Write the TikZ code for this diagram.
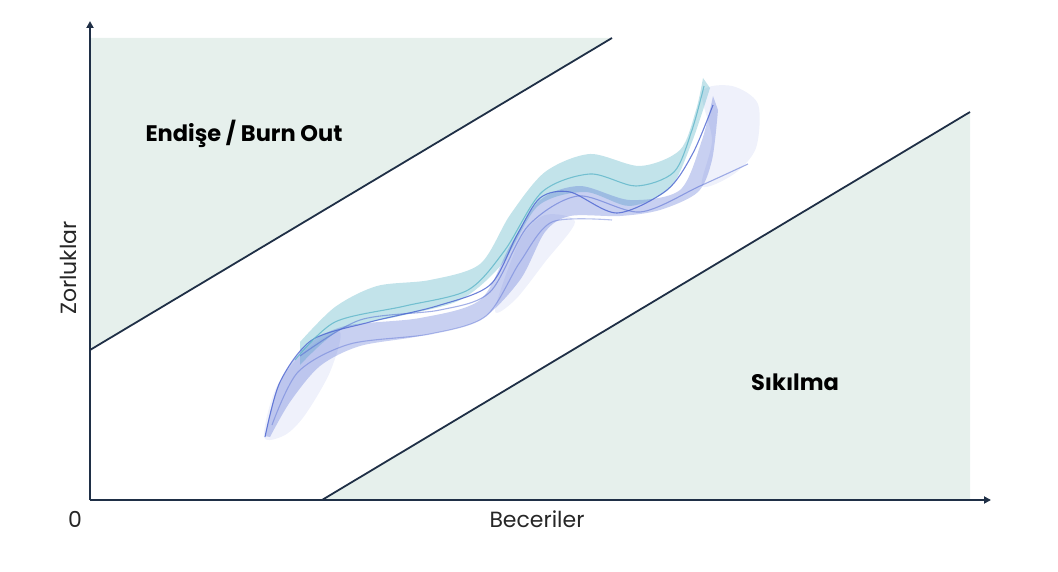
\documentclass[tikz,border=0pt]{standalone}
\usepackage{fontspec}
\setmainfont{Poppins}
\usepackage{tikz}
\usetikzlibrary{arrows.meta}
\definecolor{zonefill}{HTML}{E6F0EC}
\definecolor{navy}{HTML}{1F2F46}
\definecolor{teal}{HTML}{5FB6C9}
\definecolor{wave}{HTML}{4A63D0}
\tikzset{
	axis/.style={navy,line width=2pt,-{Triangle[length=7pt,width=7pt]}},
	border/.style={navy,line width=1.8pt},
	zone/.style={font=\bfseries\fontsize{22.5}{26}\selectfont},
	axislabel/.style={font=\fontsize{22}{26}\selectfont,text=black!85},
	band/.style={fill=#1,fill opacity=0.38,draw=none},
	haze/.style={fill=wave,fill opacity=0.09,draw=none},
	strand/.style={draw=#1,line width=1.1pt,opacity=0.8}
}
\begin{document}
\begin{tikzpicture}[x=1pt,y=-1pt]
	\useasboundingbox (0,0) rectangle (1058,572);
	\coordinate (O) at (90,500);
	\coordinate (Ytop) at (90,21);
	\coordinate (Xend) at (991,500);
	\coordinate (A) at (90,350);
	\coordinate (B) at (612,38);
	\coordinate (C) at (322,500);
	\coordinate (D) at (970,112);
	\fill[zonefill] (90,38) -- (B) -- (A) -- cycle;
	\fill[zonefill] (C) -- (D) -- (970,500) -- cycle;
	\draw[border] (A) -- (B);
	\draw[border] (C) -- (D);
	\draw[axis] (O) -- (Ytop);
	\draw[axis] (O) -- (Xend);
	\node[zone] (worry) at (244,134) {Endişe / Burn Out};
	\node[zone] (bored) at (795,382) {Sıkılma};
	\node[axislabel] (zero) at (75,519) {0};
	\node[axislabel] (skills) at (537,519) {Beceriler};
	\node[axislabel,rotate=90] (challenges) at (68,268) {Zorluklar};
	\fill[haze] plot[smooth cycle] coordinates {(264,437) (276,388) (306,350) (340,332) (330,372) (305,415) (285,435)};
	\fill[haze] plot[smooth cycle] coordinates {(702,92) (732,86) (758,104) (756,148) (734,174) (702,186) (712,140)};
	\fill[haze] plot[smooth cycle] coordinates {(520,240) (545,215) (575,222) (545,262) (515,300) (495,310)};
	\fill[band=teal] plot[smooth] coordinates {(300,342) (335,307) (377,286) (430,280) (480,264) (510,215) (545,172) (590,154) (640,166) (680,150) (696,110) (703,78)}
		-- plot[smooth] coordinates {(710,88) (692,142) (670,188) (630,206) (585,192) (538,206) (502,264) (460,300) (400,316) (340,330) (300,365)} -- cycle;
	\fill[band=wave,fill opacity=0.3] plot[smooth] coordinates {(265,436) (278,386) (305,347) (345,326) (420,318) (480,300) (510,246) (540,200) (580,186) (630,200) (680,190) (702,140) (713,96)}
		-- plot[smooth] coordinates {(718,110) (712,160) (698,192) (660,210) (620,216) (570,216) (545,232) (520,280) (480,320) (420,336) (360,346) (320,366) (290,402) (270,437)} -- cycle;
	\draw[strand=wave] plot[smooth] coordinates {(265,437) (280,382) (312,340) (370,322) (437,306) (490,285) (517,235) (540,198) (570,192) (617,213) (667,190) (693,153) (713,105)};
	\draw[strand=teal] plot[smooth] coordinates {(295,360) (335,322) (405,306) (468,290) (505,250) (542,192) (590,174) (636,186) (674,172) (692,130) (704,86)};
	\draw[strand=wave,opacity=0.5] plot[smooth] coordinates {(300,356) (360,320) (440,310) (490,292) (528,226) (578,196) (640,212) (700,186) (748,164)};
	\draw[strand=wave,opacity=0.4] plot[smooth] coordinates {(272,425) (298,372) (350,344) (430,334) (486,316) (520,262) (552,222) (612,220)};
\end{tikzpicture}
\end{document}
